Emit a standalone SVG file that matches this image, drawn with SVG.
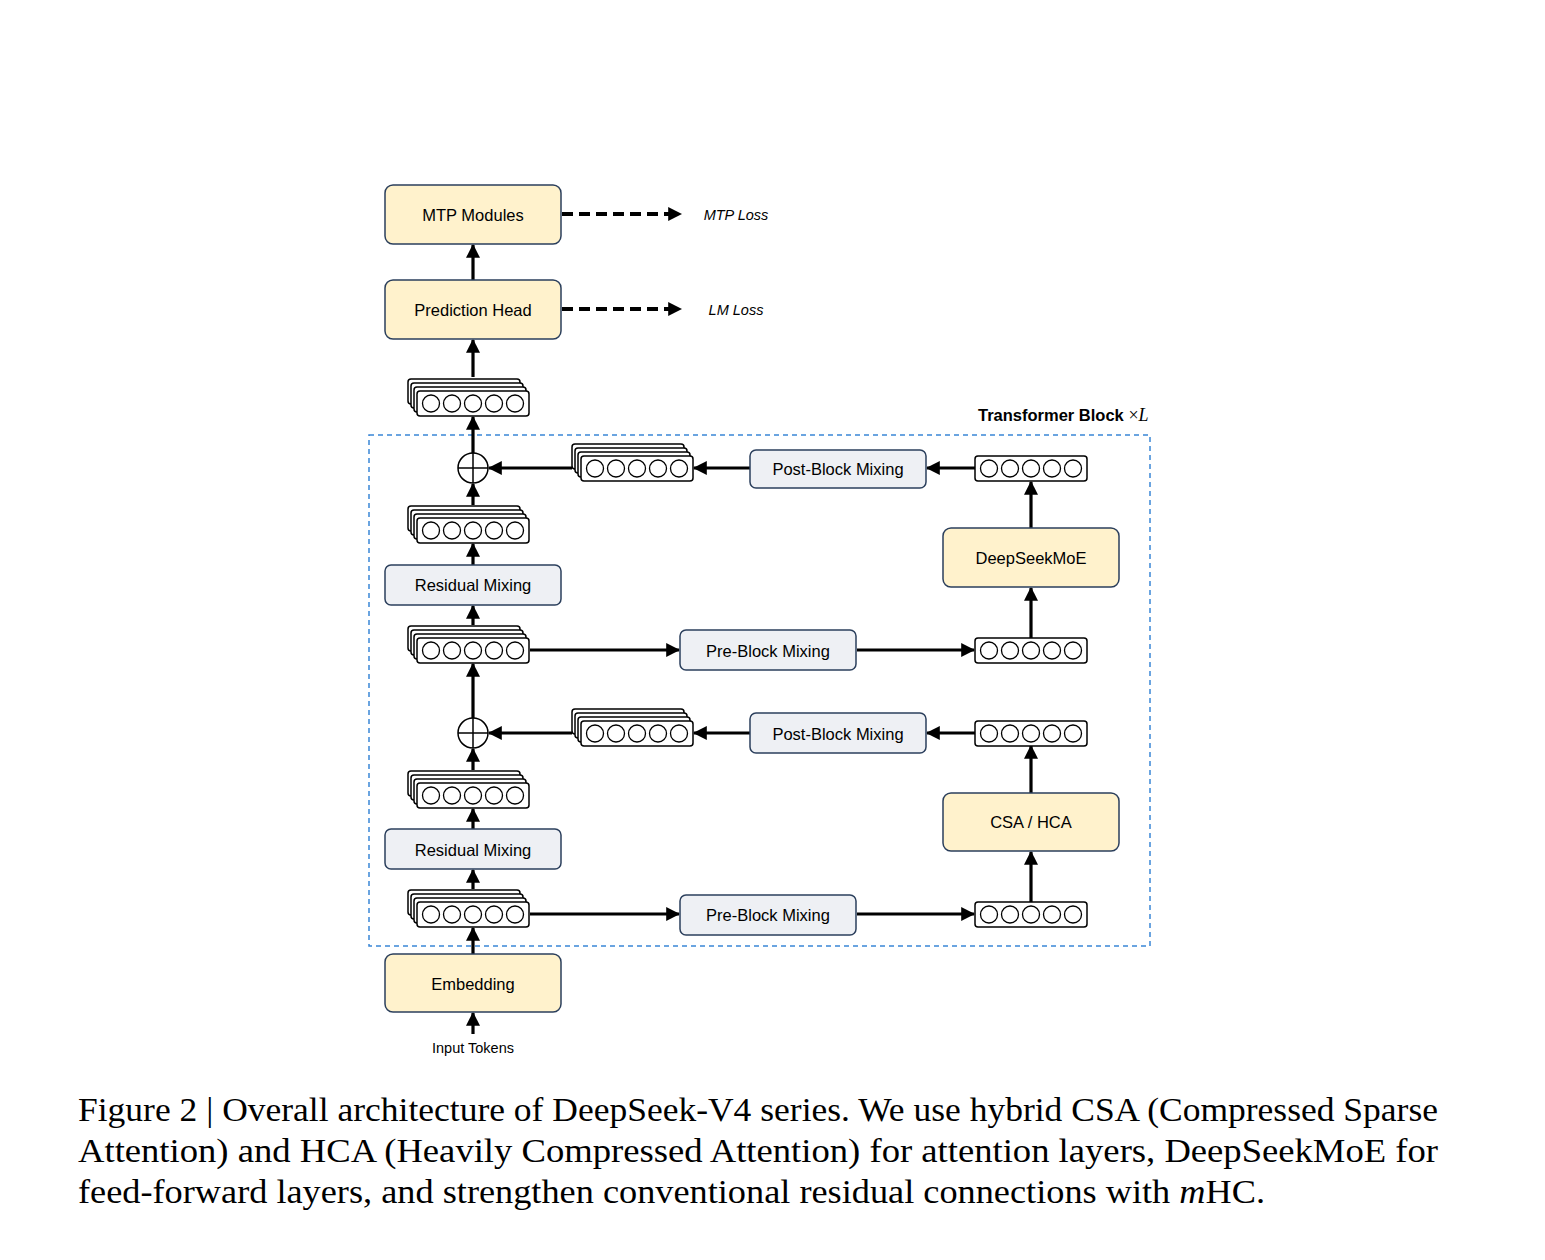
<svg xmlns="http://www.w3.org/2000/svg" width="1545" height="1260" viewBox="0 0 1545 1260">
<defs>
<marker id="ah" markerUnits="userSpaceOnUse" markerWidth="14" markerHeight="14" viewBox="0 0 12 12" refX="11" refY="6" orient="auto">
<path d="M0,0 L12,6 L0,12 Z" fill="#000"/>
</marker>
<g id="vec">
<rect x="0" y="0" width="112" height="25" rx="3" fill="#fff" stroke="#000" stroke-width="1.5"/>
<circle cx="14" cy="12.5" r="8.5" fill="#fff" stroke="#000" stroke-width="1.3"/>
<circle cx="35" cy="12.5" r="8.5" fill="#fff" stroke="#000" stroke-width="1.3"/>
<circle cx="56" cy="12.5" r="8.5" fill="#fff" stroke="#000" stroke-width="1.3"/>
<circle cx="77" cy="12.5" r="8.5" fill="#fff" stroke="#000" stroke-width="1.3"/>
<circle cx="98" cy="12.5" r="8.5" fill="#fff" stroke="#000" stroke-width="1.3"/>
</g>
<g id="stack">
<rect x="-9" y="-12" width="112" height="25" rx="3" fill="#fff" stroke="#000" stroke-width="1.5"/>
<rect x="-6" y="-8" width="112" height="25" rx="3" fill="#fff" stroke="#000" stroke-width="1.5"/>
<rect x="-3" y="-4" width="112" height="25" rx="3" fill="#fff" stroke="#000" stroke-width="1.5"/>
<use href="#vec"/>
</g>
<g id="plus">
<circle cx="0" cy="0" r="15" fill="#fff" stroke="#000" stroke-width="1.5"/>
<line x1="-15" y1="0" x2="15" y2="0" stroke="#000" stroke-width="1.5"/>
<line x1="0" y1="-15" x2="0" y2="15" stroke="#000" stroke-width="1.5"/>
</g>
</defs>
<style>
.y{fill:#fff2cc;stroke:#2b3f5c;stroke-width:1.5}
.g{fill:#eef0f4;stroke:#2b3f5c;stroke-width:1.5}
.t{font-family:"Liberation Sans",Arial,sans-serif;font-size:16.5px;fill:#000;text-anchor:middle;dominant-baseline:central}
.c{stroke:#000;stroke-width:3.2;fill:none;marker-end:url(#ah)}
.d{stroke-dasharray:11,6;stroke-width:3.8}
.cap{font-family:"Liberation Serif","Times New Roman",serif;font-size:33px;fill:#000}
</style>
<rect width="1545" height="1260" fill="#fff"/>

<rect x="369" y="435" width="781" height="511" fill="none" stroke="#3a86d6" stroke-width="1.5" stroke-dasharray="5,4"/>
<text x="978" y="421" font-family="Liberation Sans,Arial,sans-serif" font-size="16.5" font-weight="bold">Transformer Block <tspan font-family="Liberation Serif,serif" font-weight="normal" font-size="18">×</tspan><tspan font-family="Liberation Serif,serif" font-weight="normal" font-style="italic" font-size="18">L</tspan></text>

<g id="connectors">
<line class="c" x1="473" y1="280" x2="473" y2="245"/>
<line class="c" x1="473" y1="377" x2="473" y2="340"/>
<line class="c d" x1="562" y1="214" x2="681" y2="214"/>
<line class="c d" x1="562" y1="309" x2="681" y2="309"/>
<line class="c" x1="473" y1="453" x2="473" y2="417"/>
<line class="c" x1="473" y1="505" x2="473" y2="484"/>
<line class="c" x1="572" y1="468" x2="489" y2="468"/>
<line class="c" x1="750" y1="468" x2="694" y2="468"/>
<line class="c" x1="975" y1="468" x2="927" y2="468"/>
<line class="c" x1="1031" y1="528" x2="1031" y2="482"/>
<line class="c" x1="473" y1="565" x2="473" y2="544"/>
<line class="c" x1="473" y1="625" x2="473" y2="606"/>
<line class="c" x1="530" y1="650" x2="679" y2="650"/>
<line class="c" x1="857" y1="650" x2="974" y2="650"/>
<line class="c" x1="1031" y1="638" x2="1031" y2="588"/>
<line class="c" x1="473" y1="718" x2="473" y2="664"/>
<line class="c" x1="572" y1="733" x2="489" y2="733"/>
<line class="c" x1="750" y1="733" x2="694" y2="733"/>
<line class="c" x1="975" y1="733" x2="927" y2="733"/>
<line class="c" x1="1031" y1="793" x2="1031" y2="746"/>
<line class="c" x1="473" y1="770" x2="473" y2="749"/>
<line class="c" x1="473" y1="829" x2="473" y2="809"/>
<line class="c" x1="473" y1="889" x2="473" y2="870"/>
<line class="c" x1="530" y1="914" x2="679" y2="914"/>
<line class="c" x1="857" y1="914" x2="974" y2="914"/>
<line class="c" x1="1031" y1="902" x2="1031" y2="852"/>
<line class="c" x1="473" y1="954" x2="473" y2="928"/>
<line class="c" x1="473" y1="1034" x2="473" y2="1013"/>
</g>

<g id="mtp"><rect class="y" x="385" y="185" width="176" height="59" rx="8"/><text class="t" x="473" y="215">MTP Modules</text></g>
<g id="predhead"><rect class="y" x="385" y="280" width="176" height="59" rx="8"/><text class="t" x="473" y="310">Prediction Head</text></g>
<text x="736" y="215" font-family="Liberation Sans,Arial,sans-serif" font-size="14.5" font-style="italic" text-anchor="middle" dominant-baseline="central">MTP Loss</text>
<text x="736" y="310" font-family="Liberation Sans,Arial,sans-serif" font-size="14.5" font-style="italic" text-anchor="middle" dominant-baseline="central">LM Loss</text>

<g id="stack-top"><use href="#stack" x="417" y="391"/></g>
<g id="plus1"><use href="#plus" x="473" y="468"/></g>
<g id="stack-post1"><use href="#stack" x="581" y="456"/></g>
<g id="postblock1"><rect class="g" x="750" y="450" width="176" height="38" rx="6"/><text class="t" x="838" y="469">Post-Block Mixing</text></g>
<g id="vec-moe-out"><use href="#vec" x="975" y="456"/></g>
<g id="moe"><rect class="y" x="943" y="528" width="176" height="59" rx="8"/><text class="t" x="1031" y="558">DeepSeekMoE</text></g>
<g id="stack2"><use href="#stack" x="417" y="518"/></g>
<g id="resmix1"><rect class="g" x="385" y="565" width="176" height="40" rx="6"/><text class="t" x="473" y="585">Residual Mixing</text></g>
<g id="stack3"><use href="#stack" x="417" y="638"/></g>
<g id="preblock1"><rect class="g" x="680" y="630" width="176" height="40" rx="6"/><text class="t" x="768" y="651">Pre-Block Mixing</text></g>
<g id="vec-moe-in"><use href="#vec" x="975" y="638"/></g>
<g id="plus2"><use href="#plus" x="473" y="733"/></g>
<g id="stack-post2"><use href="#stack" x="581" y="721"/></g>
<g id="postblock2"><rect class="g" x="750" y="713" width="176" height="40" rx="6"/><text class="t" x="838" y="734">Post-Block Mixing</text></g>
<g id="vec-att-out"><use href="#vec" x="975" y="721"/></g>
<g id="csa"><rect class="y" x="943" y="793" width="176" height="58" rx="8"/><text class="t" x="1031" y="822">CSA / HCA</text></g>
<g id="stack4"><use href="#stack" x="417" y="783"/></g>
<g id="resmix2"><rect class="g" x="385" y="829" width="176" height="40" rx="6"/><text class="t" x="473" y="850">Residual Mixing</text></g>
<g id="stack5"><use href="#stack" x="417" y="902"/></g>
<g id="preblock2"><rect class="g" x="680" y="895" width="176" height="40" rx="6"/><text class="t" x="768" y="915">Pre-Block Mixing</text></g>
<g id="vec-att-in"><use href="#vec" x="975" y="902"/></g>
<g id="embedding"><rect class="y" x="385" y="954" width="176" height="58" rx="8"/><text class="t" x="473" y="984">Embedding</text></g>
<text x="473" y="1048" font-family="Liberation Sans,Arial,sans-serif" font-size="14.5" text-anchor="middle" dominant-baseline="central">Input Tokens</text>

<text class="cap" x="78" y="1121" textLength="1360" lengthAdjust="spacingAndGlyphs">Figure 2 | Overall architecture of DeepSeek-V4 series. We use hybrid CSA (Compressed Sparse</text>
<text class="cap" x="78" y="1162" textLength="1360" lengthAdjust="spacingAndGlyphs">Attention) and HCA (Heavily Compressed Attention) for attention layers, DeepSeekMoE for</text>
<text class="cap" x="78" y="1203" textLength="1187" lengthAdjust="spacingAndGlyphs">feed-forward layers, and strengthen conventional residual connections with <tspan font-style="italic">m</tspan>HC.</text>
</svg>
